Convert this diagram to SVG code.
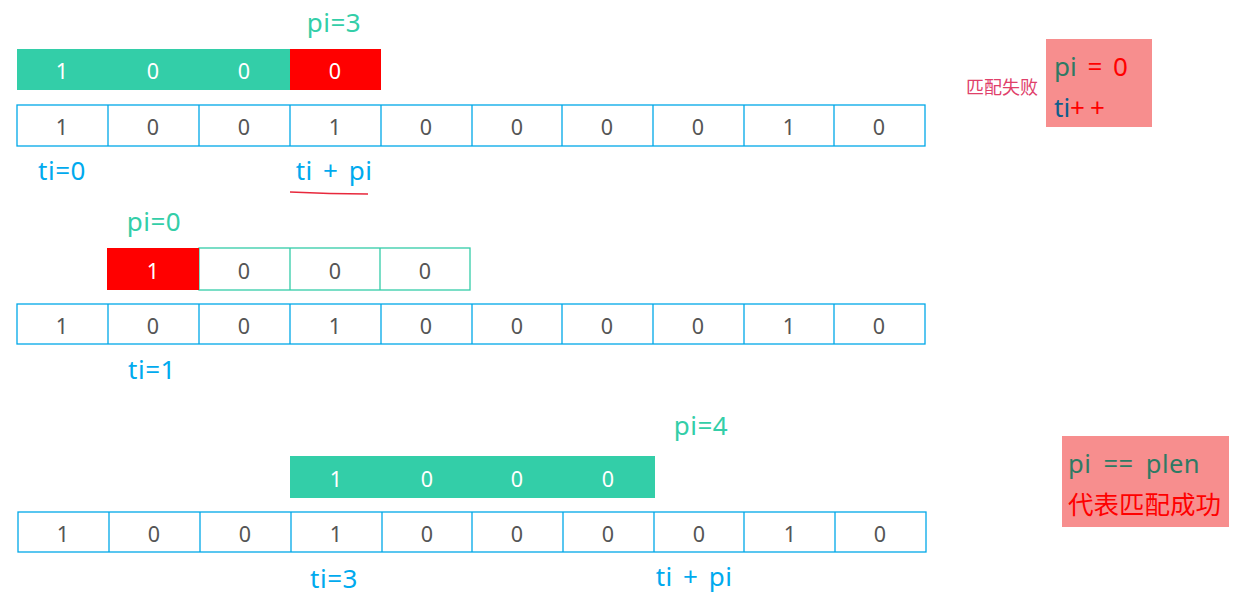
<svg xmlns="http://www.w3.org/2000/svg" width="1233" height="597" viewBox="0 0 1233 597">
<defs>
<style>
text{font-family:"Noto Sans","Noto Sans CJK SC",sans-serif;text-anchor:middle;dominant-baseline:central}
.cell{fill:#fff;stroke:#00A8E8;stroke-width:1.3}
.pcell{fill:#fff;stroke:#33CCA8;stroke-width:1.3}
.g{fill:#33CEA8}
.r{fill:#FF0000}
.d{font-size:21.5px;fill:#555}
.w{font-size:21.5px;fill:#fff}
.lb{font-size:26px;fill:#00AAEE;letter-spacing:0.5px;word-spacing:3px}
.lg{font-size:26px;fill:#33CEA8;letter-spacing:0.5px}
.box{fill:#F78E8E}
</style>
</defs>
<g id="row1-pattern">
<rect class="g" x="17" y="49" width="273" height="41"/>
<rect class="r" x="290" y="49" width="91" height="41"/>
<text class="w" x="62" y="70">1</text><text class="w" x="153" y="70">0</text><text class="w" x="244" y="70">0</text><text class="w" x="335" y="70">0</text>
</g>
<g id="row1-text">
<rect class="cell" x="17" y="105" width="908" height="41"/>
<path d="M108 105V146M199 105V146M290 105V146M381 105V146M472 105V146M562 105V146M653 105V146M744 105V146M834 105V146" stroke="#00A8E8" stroke-width="1.3"/>
<text class="d" x="62" y="126">1</text><text class="d" x="153" y="126">0</text><text class="d" x="244" y="126">0</text><text class="d" x="335" y="126">1</text><text class="d" x="426" y="126">0</text><text class="d" x="517" y="126">0</text><text class="d" x="607" y="126">0</text><text class="d" x="698" y="126">0</text><text class="d" x="789" y="126">1</text><text class="d" x="879" y="126">0</text>
</g>
<g id="row1-labels">
<text class="lg" x="334" y="22">pi=3</text>
<text class="lb" x="62" y="170">ti=0</text>
<text class="lb" x="334" y="170">ti + pi</text>
<path d="M290 192Q330 194 368 194" stroke="#E8283C" stroke-width="1.5" fill="none"/>
</g>
<g id="note1">
<text x="1002" y="87" style="font-size:18px;fill:#E0406A">匹配失败</text>
<rect class="box" x="1046" y="39" width="106" height="88"/>
<text x="1054" y="66" style="font-size:26px;text-anchor:start;word-spacing:4px"><tspan fill="#2E7A64">pi</tspan><tspan fill="#FF0000"> = 0</tspan></text>
<text x="1054" y="107" style="font-size:26px;text-anchor:start"><tspan fill="#0E5E8C">ti</tspan><tspan fill="#FF0000" style="letter-spacing:5px">++</tspan></text>
</g>
<g id="row2-pattern">
<rect class="pcell" x="199" y="248" width="271" height="42"/>
<path d="M290 248V290M380 248V290" stroke="#33CCA8" stroke-width="1.3"/>
<rect class="r" x="107" y="248" width="92" height="42"/>
<text class="w" x="153" y="270">1</text><text class="d" x="244" y="270">0</text><text class="d" x="335" y="270">0</text><text class="d" x="425" y="270">0</text>
</g>
<g id="row2-text">
<rect class="cell" x="17" y="304" width="908" height="40"/>
<path d="M108 304V344M199 304V344M290 304V344M381 304V344M472 304V344M562 304V344M653 304V344M744 304V344M834 304V344" stroke="#00A8E8" stroke-width="1.3"/>
<text class="d" x="62" y="325">1</text><text class="d" x="153" y="325">0</text><text class="d" x="244" y="325">0</text><text class="d" x="335" y="325">1</text><text class="d" x="426" y="325">0</text><text class="d" x="517" y="325">0</text><text class="d" x="607" y="325">0</text><text class="d" x="698" y="325">0</text><text class="d" x="789" y="325">1</text><text class="d" x="879" y="325">0</text>
</g>
<g id="row2-labels">
<text class="lg" x="154" y="221">pi=0</text>
<text class="lb" x="152" y="369">ti=1</text>
</g>
<g id="row3-pattern">
<rect class="g" x="290" y="456" width="365" height="42"/>
<text class="w" x="336" y="478">1</text><text class="w" x="427" y="478">0</text><text class="w" x="517" y="478">0</text><text class="w" x="608" y="478">0</text>
</g>
<g id="row3-text">
<rect class="cell" x="18" y="512" width="908" height="40"/>
<path d="M109 512V552M200 512V552M291 512V552M382 512V552M472 512V552M563 512V552M654 512V552M744 512V552M835 512V552" stroke="#00A8E8" stroke-width="1.3"/>
<text class="d" x="63" y="533">1</text><text class="d" x="154" y="533">0</text><text class="d" x="245" y="533">0</text><text class="d" x="336" y="533">1</text><text class="d" x="427" y="533">0</text><text class="d" x="517" y="533">0</text><text class="d" x="608" y="533">0</text><text class="d" x="699" y="533">0</text><text class="d" x="790" y="533">1</text><text class="d" x="880" y="533">0</text>
</g>
<g id="row3-labels">
<text class="lg" x="701" y="425">pi=4</text>
<text class="lb" x="334" y="578">ti=3</text>
<text class="lb" x="694" y="576">ti + pi</text>
</g>
<g id="note2">
<rect class="box" x="1062" y="436" width="167" height="91"/>
<text x="1068" y="463" style="font-size:25.5px;text-anchor:start;fill:#2E7A64;word-spacing:5px;letter-spacing:0.5px">pi == plen</text>
<text x="1068" y="504" style="font-size:25.5px;text-anchor:start;fill:#FF0000">代表匹配成功</text>
</g>
<g id="connectors"></g>
</svg>
